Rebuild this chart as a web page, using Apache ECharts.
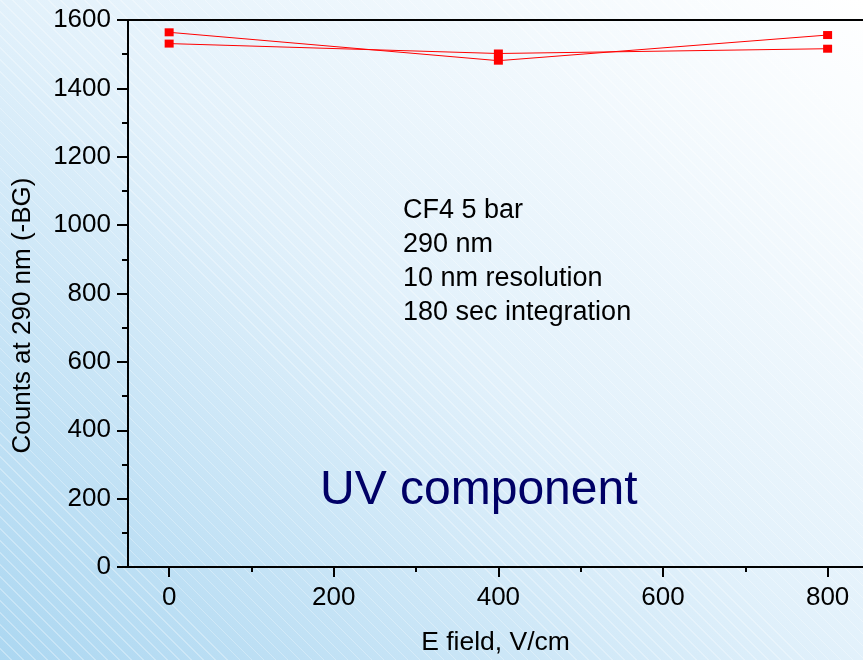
<!DOCTYPE html>
<html>
<head>
<meta charset="utf-8">
<script src="https://cdn.jsdelivr.net/npm/echarts@6/dist/echarts.min.js"></script>
<style>
  html, body { margin: 0; padding: 0; }
  body {
    width: 863px; height: 660px; overflow: hidden;
    background:
      repeating-linear-gradient(45deg, rgba(255,255,255,0) 0px, rgba(255,255,255,0) 7.5px, rgba(255,255,255,0.3) 7.5px, rgba(255,255,255,0.3) 8.5px),
      linear-gradient(to top right, #acd7f1 0%, #e2f1fb 50%, #ffffff 100%);
  }
  #chart { width: 863px; height: 660px; }
</style>
</head>
<body>
<div id="chart"></div>
<script>
// E field settings (V/cm)
const fieldValues = [0, 400, 800];
// Two measurement runs, counts at 290 nm with background subtracted
const countsRunA = [1564, 1481, 1556];
const countsRunB = [1531, 1502, 1516];
// Axis tick values
const xLabelTicks = [0, 200, 400, 600, 800];
const xMinorTicks = [100, 300, 500, 700];
// Annotation text
const noteLines = ['CF4 5 bar', '290 nm', '10 nm resolution', '180 sec integration'];
const componentTitle = 'UV component';

const FONT = '"Liberation Sans", Arial, sans-serif';
const AXIS_COLOR = '#000';
const X_MIN = -50;
const X_MAX = 843;

function pairs(xs, ys) {
  return xs.map((x, i) => [x, ys[i]]);
}

const chart = echarts.init(document.getElementById('chart'), null, { renderer: 'canvas' });

const seriesStyle = {
  type: 'line',
  xAxisIndex: 0,
  yAxisIndex: 0,
  symbol: 'rect',
  symbolSize: [9, 8],
  lineStyle: { color: '#ff0000', width: 1 },
  itemStyle: { color: '#ff0000' },
  animation: false,
  z: 5
};

chart.setOption({
  backgroundColor: 'transparent',
  animation: false,
  grid: { left: 128, top: 20, right: 0, bottom: 93, containLabel: false, outerBoundsMode: 'none' },
  xAxis: [
    {
      type: 'value',
      position: 'bottom',
      min: X_MIN,
      max: X_MAX,
      name: 'E field, V/cm',
      nameLocation: 'middle',
      nameGap: 62,
      nameTextStyle: { fontFamily: FONT, fontSize: 26.5, color: '#000' },
      axisLine: { show: true, onZero: false, lineStyle: { color: AXIS_COLOR, width: 2 } },
      axisTick: { show: true, inside: false, length: 10, customValues: xLabelTicks, lineStyle: { color: AXIS_COLOR, width: 2 } },
      axisLabel: { show: true, margin: 18, customValues: xLabelTicks, formatter: v => String(v), fontFamily: FONT, fontSize: 26, color: '#000' },
      splitLine: { show: false }
    },
    {
      type: 'value',
      position: 'bottom',
      min: X_MIN,
      max: X_MAX,
      axisLine: { show: false },
      axisTick: { show: true, inside: false, length: 5, customValues: xMinorTicks, lineStyle: { color: AXIS_COLOR, width: 2 } },
      axisLabel: { show: false },
      splitLine: { show: false }
    },
    {
      type: 'value',
      position: 'top',
      min: X_MIN,
      max: X_MAX,
      axisLine: { show: true, onZero: false, lineStyle: { color: AXIS_COLOR, width: 2 } },
      axisTick: { show: false },
      axisLabel: { show: false },
      splitLine: { show: false }
    }
  ],
  yAxis: {
    type: 'value',
    min: 0,
    max: 1600,
    interval: 200,
    name: 'Counts at 290 nm (-BG)',
    nameLocation: 'middle',
    nameGap: 92,
    nameTextStyle: { fontFamily: FONT, fontSize: 26, color: '#000', padding: [0, 44, 0, 0] },
    axisLine: { show: true, onZero: false, lineStyle: { color: AXIS_COLOR, width: 2 } },
    axisTick: { show: true, inside: false, length: 11, lineStyle: { color: AXIS_COLOR, width: 2 } },
    minorTick: { show: true, splitNumber: 2, length: 6, lineStyle: { color: AXIS_COLOR, width: 2 } },
    axisLabel: { margin: 17, formatter: v => String(v), fontFamily: FONT, fontSize: 26, color: '#000' },
    splitLine: { show: false }
  },
  series: [
    Object.assign({ name: 'run A', data: pairs(fieldValues, countsRunA) }, seriesStyle),
    Object.assign({ name: 'run B', data: pairs(fieldValues, countsRunB) }, seriesStyle)
  ],
  graphic: [
    {
      type: 'text',
      left: 403,
      top: 194,
      style: {
        text: noteLines.join('\n'),
        fontFamily: FONT,
        fontSize: 27,
        lineHeight: 34,
        fill: '#000'
      }
    },
    {
      type: 'text',
      x: 320,
      y: 491,
      style: {
        text: componentTitle,
        fontFamily: FONT,
        fontSize: 48,
        fill: '#000066',
        verticalAlign: 'middle'
      }
    }
  ]
});
</script>
</body>
</html>
